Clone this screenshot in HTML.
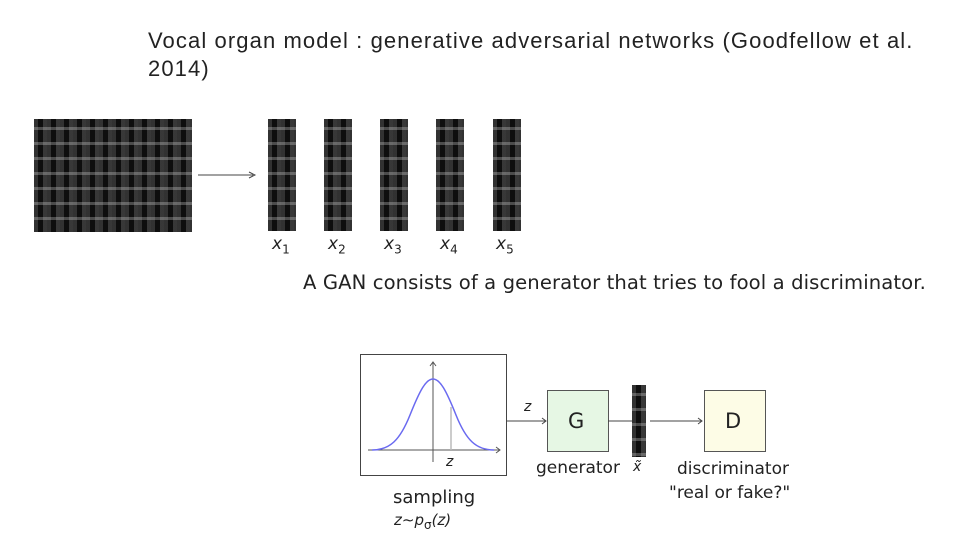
<!DOCTYPE html>
<html><head><meta charset="utf-8"><style>
body{margin:0;width:960px;height:540px;background:#fff;position:relative;overflow:hidden;font-family:"Liberation Sans",sans-serif}
.t{position:absolute;left:148px;top:27px;font-size:22px;letter-spacing:1.1px;line-height:28px;color:#222;width:820px}
.spec{position:absolute;background:#111;
background-image:
repeating-linear-gradient(180deg,rgba(0,0,0,0) 0 8px,rgba(220,220,220,.3) 8px 11px,rgba(0,0,0,0) 11px 15px),
repeating-linear-gradient(90deg,rgba(110,110,110,.35) 0 4px,rgba(0,0,0,.2) 4px 9px,rgba(170,170,170,.25) 9px 13px);
}
.m{position:absolute;font-family:"DejaVu Sans",sans-serif;font-size:17px;font-style:italic;color:#222}
.m sub{font-style:normal;font-size:12px}
.s{position:absolute;font-family:"DejaVu Sans",sans-serif;color:#222}
</style></head><body>
<div class="t">Vocal organ model : generative adversarial networks (Goodfellow et al.<br>2014)</div>
<div class="spec" style="left:34px;top:119px;width:158px;height:113px"></div>
<svg style="position:absolute;left:0;top:0" width="960" height="540">
<line x1="198" y1="175" x2="253" y2="175" stroke="#444" stroke-width="1"/>
<path d="M249,172 L255,175 L249,178" fill="none" stroke="#444"/>
<rect x="360.5" y="354.5" width="146" height="121" fill="#fff" stroke="#444"/>
<line x1="368" y1="450" x2="500" y2="450" stroke="#555"/>
<path d="M496,447 L500,450 L496,453" fill="none" stroke="#555"/>
<line x1="433" y1="462" x2="433" y2="362" stroke="#555"/>
<path d="M430,366 L433,362 L436,366" fill="none" stroke="#555"/>
<line x1="451" y1="407" x2="451" y2="450" stroke="#bbb" stroke-width="1.5"/>
<path d="M372,450 C390,450 400,440 410,415 C420,390 426,379 433,379 C440,379 446,390 456,415 C466,440 476,450 494,450" fill="none" stroke="#6a6af0" stroke-width="1.5"/>
<line x1="506" y1="421" x2="546" y2="421" stroke="#444"/>
<path d="M542,418 L546,421 L542,424" fill="none" stroke="#444"/>
<rect x="547.5" y="390.5" width="61" height="61" fill="#e6f7e4" stroke="#555"/>
<line x1="608" y1="421" x2="632" y2="421" stroke="#444"/>
<line x1="650" y1="421" x2="702" y2="421" stroke="#444"/>
<path d="M698,418 L702,421 L698,424" fill="none" stroke="#444"/>
<rect x="704.5" y="390.5" width="61" height="61" fill="#fdfce6" stroke="#555"/>
</svg>
<div class="spec" style="left:268px;top:119px;width:28px;height:112px"></div>
<div class="spec" style="left:324px;top:119px;width:28px;height:112px"></div>
<div class="spec" style="left:380px;top:119px;width:28px;height:112px"></div>
<div class="spec" style="left:436px;top:119px;width:28px;height:112px"></div>
<div class="spec" style="left:493px;top:119px;width:28px;height:112px"></div>
<div class="spec" style="left:632px;top:385px;width:14px;height:72px"></div>
<div class="m" style="left:272px;top:234px">x<sub>1</sub></div>
<div class="m" style="left:328px;top:234px">x<sub>2</sub></div>
<div class="m" style="left:384px;top:234px">x<sub>3</sub></div>
<div class="m" style="left:440px;top:234px">x<sub>4</sub></div>
<div class="m" style="left:496px;top:234px">x<sub>5</sub></div>
<div class="s" style="left:303px;top:271px;font-size:19.6px;letter-spacing:0.1px">A GAN consists of a generator that tries to fool a discriminator.</div>
<div class="m" style="left:446px;top:454px;font-size:14px">z</div>
<div class="m" style="left:524px;top:399px;font-size:14px">z</div>
<div class="s" style="left:568px;top:409px;font-size:21px">G</div>
<div class="s" style="left:725px;top:409px;font-size:21px">D</div>
<div class="s" style="left:536px;top:458px;font-size:17px">generator</div>
<div class="m" style="left:633px;top:459px;font-size:14px">x̃</div>
<div class="s" style="left:677px;top:459px;font-size:17px">discriminator</div>
<div class="s" style="left:669px;top:483px;font-size:17px">"real or fake?"</div>
<div class="s" style="left:393px;top:487px;font-size:18px">sampling</div>
<div class="m" style="left:394px;top:511px;font-size:15px">z∼p<sub>σ</sub>(z)</div>
</body></html>
